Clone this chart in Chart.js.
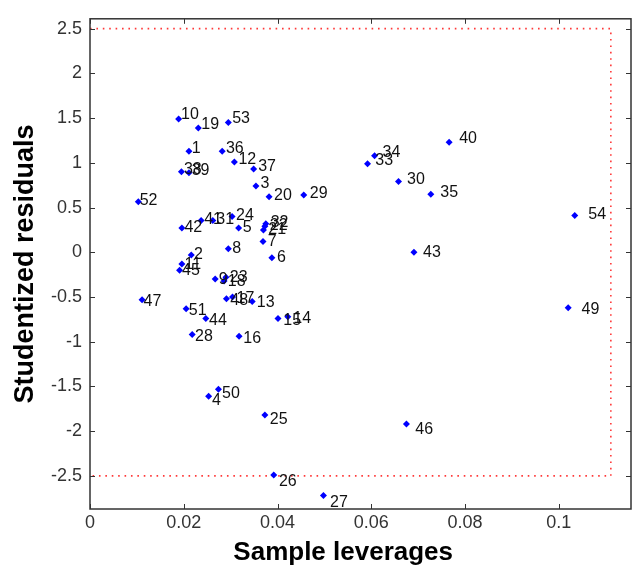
<!DOCTYPE html>
<html lang="en">
<head>
  <meta charset="UTF-8" />
  <title>Studentized residuals vs sample leverages</title>
  <script src="https://cdn.jsdelivr.net/npm/chart.js"></script>
  <style>
    html, body {
      margin: 0;
      padding: 0;
      background: #fff;
    }
    .chart-box {
      width: 635px;
      height: 569px;
    }
  </style>
</head>
<body>
  <div class="chart-box">
    <canvas id="graficoResiduos"></canvas>
  </div>

  <script>
    // sample number, leverage and studentized residual
    const sampleIds = [
      1, 2, 3, 4, 5, 6, 7, 8, 9, 10,
      11, 12, 13, 14, 15, 16, 17, 18, 19, 20,
      21, 22, 23, 24, 25, 26, 27, 28, 29, 30,
      31, 32, 33, 34, 35, 36, 37, 38, 39, 40,
      41, 42, 43, 44, 45, 46, 47, 48, 49, 50,
      51, 52, 53, 54
    ];
    const leverages = [
      0.0211, 0.0216, 0.0354, 0.0253, 0.0317, 0.0388, 0.0369, 0.0295, 0.0267, 0.0189,
      0.0196, 0.0308, 0.0346, 0.0422, 0.0401, 0.0318, 0.0304, 0.0286, 0.0231, 0.0382,
      0.0370, 0.0373, 0.0290, 0.0303, 0.0373, 0.0392, 0.0498, 0.0218, 0.0456, 0.0658,
      0.0262, 0.0375, 0.0592, 0.0607, 0.0727, 0.0282, 0.0349, 0.0195, 0.0211, 0.0766,
      0.0237, 0.0196, 0.0691, 0.0247, 0.0191, 0.0675, 0.0111, 0.0291, 0.1020, 0.0274,
      0.0205, 0.0103, 0.0295, 0.1034
    ];
    const residuals = [
      1.13, -0.03, 0.74, -1.61, 0.27, -0.06, 0.12, 0.04, -0.30, 1.49,
      -0.13, 1.01, -0.55, -0.72, -0.74, -0.94, -0.50, -0.32, 1.39, 0.62,
      0.25, 0.29, -0.28, 0.40, -1.82, -2.49, -2.72, -0.92, 0.64, 0.79,
      0.355, 0.32, 0.99, 1.08, 0.65, 1.13, 0.93, 0.90, 0.89, 1.23,
      0.355, 0.27, 0.00, -0.74, -0.20, -1.92, -0.53, -0.52, -0.62, -1.53,
      -0.63, 0.565, 1.45, 0.41
    ];

    const xTicks = [0, 0.02, 0.04, 0.06, 0.08, 0.1];
    const yTicks = [-2.5, -2, -1.5, -1, -0.5, 0, 0.5, 1, 1.5, 2, 2.5];
    const xRange = [0, 0.1154];
    const yRange = [-2.87, 2.61];

    // limits of the red dotted box
    const limitLeverage = 0.1111;
    const limitResidual = 2.5;

    const xTitle = 'Sample leverages';
    const yTitle = 'Studentized residuals';

    const puntos = leverages.map((v, i) => ({ x: v, y: residuals[i] }));
    const limites = [
      { x: 0, y: limitResidual },
      { x: limitLeverage, y: limitResidual },
      { x: limitLeverage, y: -limitResidual },
      { x: 0, y: -limitResidual }
    ];

    const familia = '"Liberation Sans", Arial, sans-serif';

    // numbers next to points, box, inner tick marks and x title (MATLAB style)
    const marcoYEtiquetas = {
      id: 'marcoYEtiquetas',
      afterDatasetsDraw(chart) {
        const { ctx, chartArea: a, scales: { x, y } } = chart;
        ctx.save();

        ctx.font = '16px ' + familia;
        ctx.fillStyle = '#111';
        ctx.textAlign = 'left';
        ctx.textBaseline = 'middle';
        sampleIds.forEach((id, i) => {
          const px = x.getPixelForValue(leverages[i] * 1.028);
          const py = y.getPixelForValue(residuals[i] * 1.03);
          ctx.fillText(String(id), px, py);
        });

        ctx.strokeStyle = '#333';
        ctx.lineWidth = 1.5;
        ctx.strokeRect(a.left, a.top, a.right - a.left, a.bottom - a.top);

        const len = 5;
        ctx.beginPath();
        xTicks.forEach(v => {
          const px = Math.round(x.getPixelForValue(v)) + 0.5;
          ctx.moveTo(px, a.bottom); ctx.lineTo(px, a.bottom - len);
          ctx.moveTo(px, a.top); ctx.lineTo(px, a.top + len);
        });
        yTicks.forEach(v => {
          const py = Math.round(y.getPixelForValue(v)) + 0.5;
          ctx.moveTo(a.left, py); ctx.lineTo(a.left + len, py);
          ctx.moveTo(a.right, py); ctx.lineTo(a.right - len, py);
        });
        ctx.lineWidth = 1;
        ctx.stroke();

        // x title sits a bit left of the axes centre in the original figure
        ctx.font = 'bold 26px ' + familia;
        ctx.fillStyle = '#000';
        ctx.textAlign = 'center';
        ctx.textBaseline = 'middle';
        ctx.fillText(xTitle, a.left + (a.right - a.left) * 0.468, 553);

        ctx.restore();
      }
    };

    const fuenteTicks = { family: familia, size: 18 };

    new Chart(document.getElementById('graficoResiduos'), {
      type: 'scatter',
      data: {
        datasets: [
          {
            label: 'Samples',
            data: puntos,
            pointStyle: 'rectRot',
            pointRadius: 3.5,
            pointBorderWidth: 0,
            backgroundColor: '#0000ff',
            borderColor: '#0000ff',
            order: 1
          },
          {
            label: 'Limits',
            data: limites,
            showLine: true,
            borderColor: '#ff3838',
            borderWidth: 1.6,
            borderDash: [1.6, 4.8],
            pointRadius: 0,
            fill: false,
            order: 2
          }
        ]
      },
      options: {
        responsive: true,
        maintainAspectRatio: false,
        animation: false,
        layout: { padding: { top: 15, right: 1, left: 0, bottom: 0 } },
        plugins: {
          legend: { display: false },
          tooltip: { enabled: false }
        },
        scales: {
          x: {
            type: 'linear',
            min: xRange[0],
            max: xRange[1],
            afterBuildTicks: s => { s.ticks = xTicks.map(v => ({ value: v })); },
            afterFit: s => { s.height = 60; },
            grid: { drawOnChartArea: false, drawTicks: false },
            border: { display: false },
            ticks: {
              padding: 3,
              color: '#333',
              font: fuenteTicks,
              maxRotation: 0,
              callback: v => String(+Number(v).toFixed(2))
            }
          },
          y: {
            type: 'linear',
            min: yRange[0],
            max: yRange[1],
            afterBuildTicks: s => { s.ticks = yTicks.map(v => ({ value: v })); },
            afterFit: s => { s.width = 90; },
            grid: { drawOnChartArea: false, drawTicks: false },
            border: { display: false },
            ticks: {
              padding: 8,
              color: '#333',
              font: fuenteTicks,
              callback: v => String(+Number(v).toFixed(1))
            },
            title: {
              display: true,
              text: yTitle,
              color: '#000',
              font: { family: familia, size: 27, weight: 'bold' },
              padding: { top: 9, bottom: 0 }
            }
          }
        }
      },
      plugins: [marcoYEtiquetas]
    });
  </script>
</body>
</html>
